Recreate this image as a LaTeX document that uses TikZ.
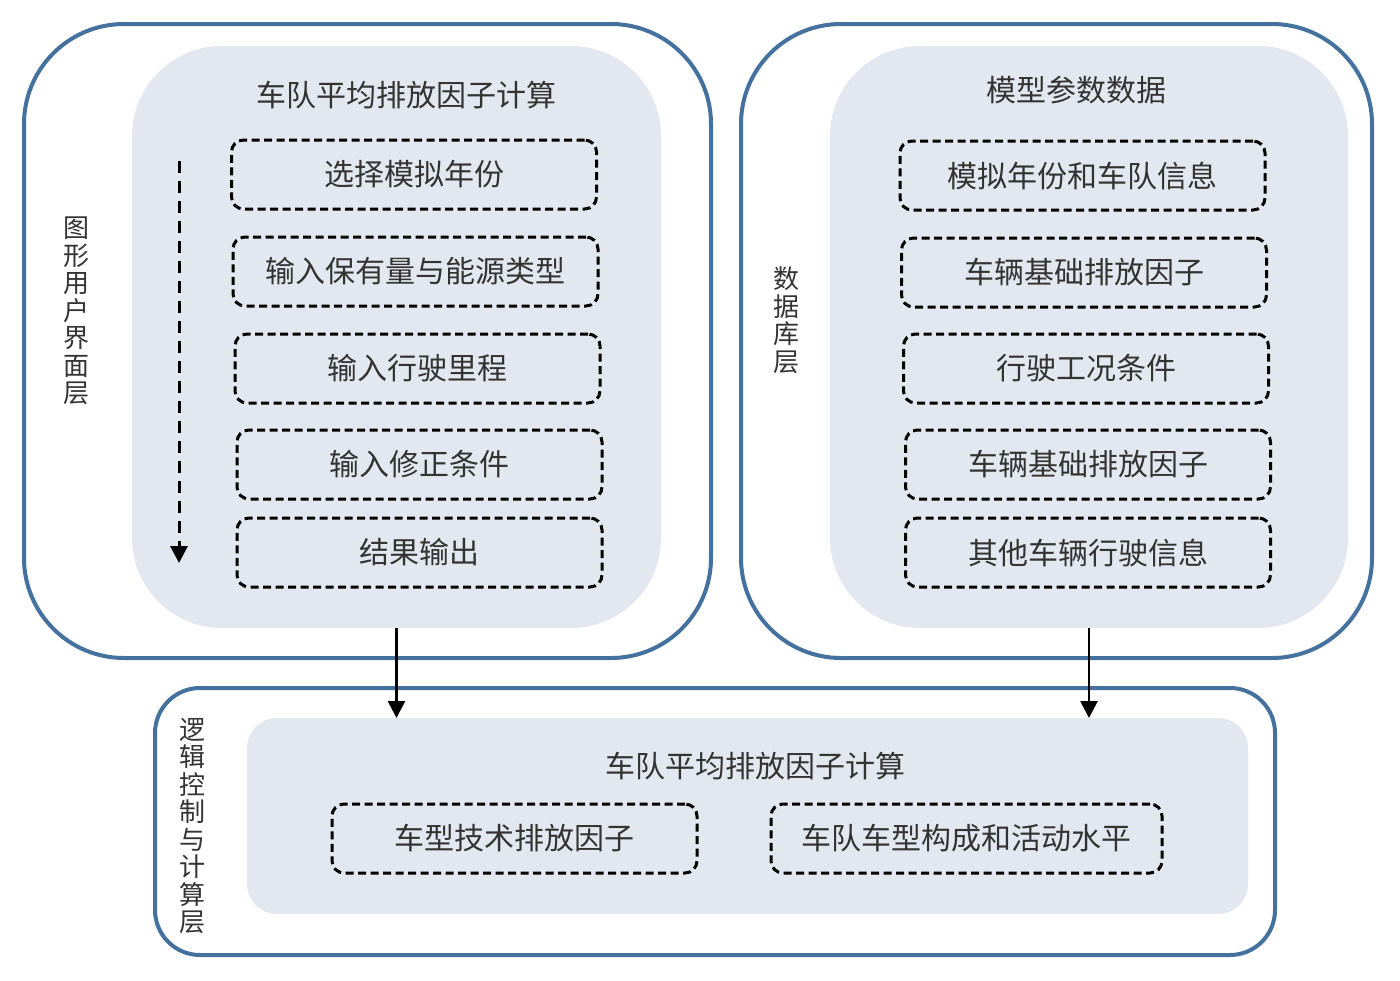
\documentclass[tikz,border=0pt]{standalone}
\usepackage{fontspec}
\newfontfamily\cjk{Noto Sans CJK SC}
\usetikzlibrary{arrows.meta}
\definecolor{frameblue}{HTML}{44719E}
\definecolor{panelgray}{HTML}{E3E8F0}
\definecolor{txt}{HTML}{333333}
\tikzset{
  outerbox/.style={draw=frameblue, line width=4pt, fill=white},
  panel/.style={fill=panelgray, draw=none},
  dashbox/.style={draw=black, line width=3pt, dash pattern=on 8pt off 4.5pt, rounded corners=12pt, minimum width=365pt, minimum height=69pt, inner sep=0pt, font=\cjk\fontsize{30}{33}\selectfont, text=txt},
  ttl/.style={font=\cjk\fontsize{30}{33}\selectfont, text=txt},
  vlabel/.style={font=\cjk\fontsize{26}{27.5}\selectfont, text=txt, align=center, inner sep=0pt},
  arr/.style={line width=2.7pt, -{Triangle[length=17pt,width=17pt]}},
}
\begin{document}
\begin{tikzpicture}[x=1pt,y=-1pt]
\useasboundingbox (0,0) rectangle (1400,980);
% left layer
\draw[outerbox, rounded corners=100pt] (24,24) rectangle (711,658);
\node[vlabel] (lbl1) at (76,311) {图\\形\\用\\户\\界\\面\\层};
\fill[panel, rounded corners=90pt] (132,46) rectangle (661,628);
\coordinate (lp) at (396.5,628);
\node[ttl] (t1) at (406,95) {车队平均排放因子计算};
\node[dashbox] (a1) at (414,174.5) {选择模拟年份};
\node[dashbox] (a2) at (415.5,271.5) {输入保有量与能源类型};
\node[dashbox] (a3) at (417.5,368.5) {输入行驶里程};
\node[dashbox] (a4) at (419.5,464.5) {输入修正条件};
\node[dashbox] (a5) at (419.5,552.5) {结果输出};
\coordinate (ds) at (179,161);
\coordinate (de) at (179,563);
\draw[line width=3pt, dash pattern=on 12pt off 8pt, -{Triangle[length=17pt,width=17pt]}] (ds) -- (de);
% right layer
\draw[outerbox, rounded corners=100pt] (741,24) rectangle (1372,658);
\node[vlabel] (lbl2) at (786,320) {数\\据\\库\\层};
\fill[panel, rounded corners=90pt] (830,46) rectangle (1348,628);
\coordinate (rp) at (1089,628);
\node[ttl] (t2) at (1076,90) {模型参数数据};
\node[dashbox] (b1) at (1082.5,175.5) {模拟年份和车队信息};
\node[dashbox] (b2) at (1084,272.5) {车辆基础排放因子};
\node[dashbox] (b3) at (1086,368.5) {行驶工况条件};
\node[dashbox] (b4) at (1088,464.5) {车辆基础排放因子};
\node[dashbox] (b5) at (1088,552.5) {其他车辆行驶信息};
% bottom layer
\draw[outerbox, rounded corners=45pt] (155,688) rectangle (1275,955);
\node[vlabel] (lbl3) at (192,826) {逻\\辑\\控\\制\\与\\计\\算\\层};
\fill[panel, rounded corners=30pt] (247,718) rectangle (1248,914);
\coordinate (lq) at (396.5,718);
\coordinate (rq) at (1089,718);
\node[ttl] (t3) at (755,766) {车队平均排放因子计算};
\node[dashbox] (c1) at (514.5,838.5) {车型技术排放因子};
\node[dashbox, minimum width=391pt] (c2) at (966.5,838.5) {车队车型构成和活动水平};
% connectors
\draw[arr] (lp) -- (lq);
\draw[arr] (rp) -- (rq);
\end{tikzpicture}
\end{document}
